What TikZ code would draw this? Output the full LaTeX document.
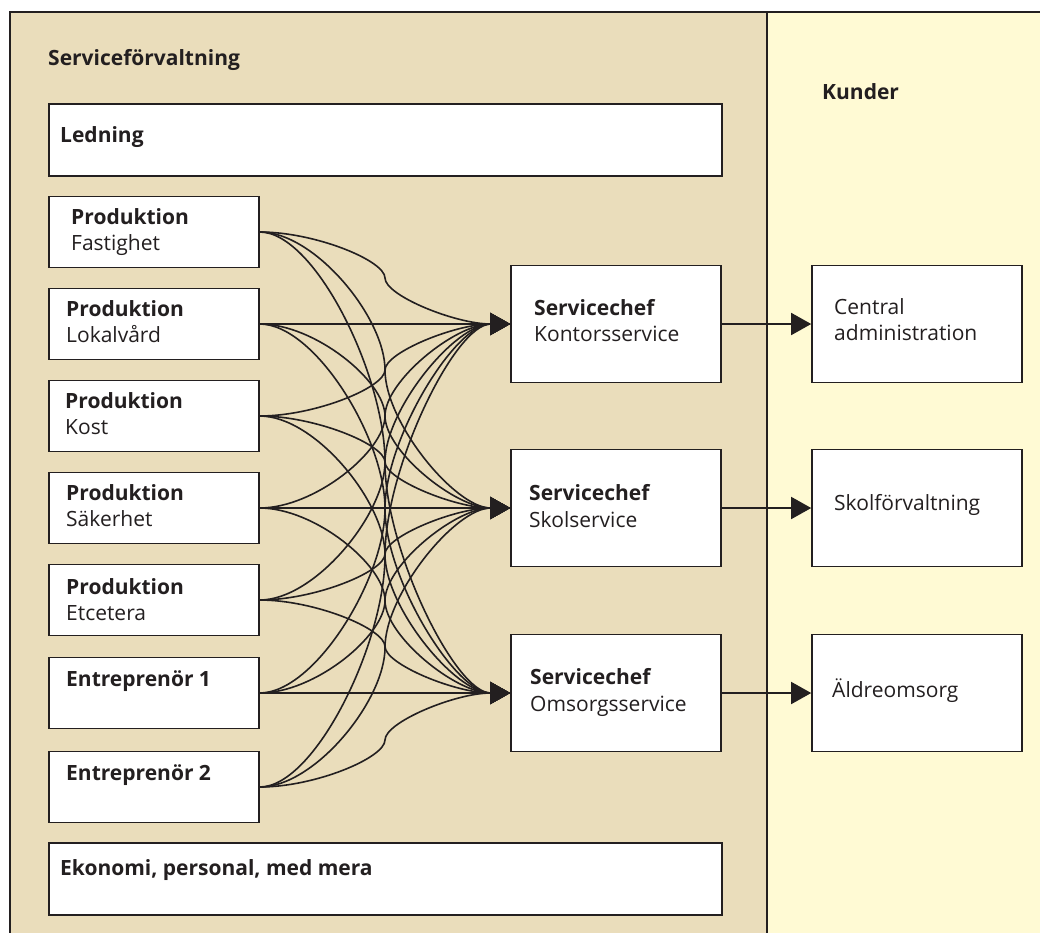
\documentclass[tikz,border=0pt]{standalone}
\usepackage{fontspec}
\setmainfont{Open Sans}
\usetikzlibrary{arrows.meta,calc}
\definecolor{ink}{RGB}{35,31,32}
\definecolor{panelbeige}{RGB}{234,221,187}
\definecolor{panelyellow}{RGB}{255,250,212}
\begin{document}
\begin{tikzpicture}[x=1pt,y=-1pt,
  panel/.style={draw=ink,line width=2pt},
  box/.style={draw=ink,fill=white,line width=1.6pt,rectangle,inner sep=0pt},
  srcbox/.style={box,minimum width=210pt,minimum height=71pt},
  bigbox/.style={box,minimum width=210pt,minimum height=117pt},
  widebox/.style={box,minimum width=673pt,minimum height=72pt},
  lbl/.style={anchor=base west,inner sep=0pt,text=ink,font=\fontsize{21}{24}\selectfont},
  blbl/.style={lbl,font=\fontsize{21}{24}\selectfont\bfseries},
  conn/.style={draw=ink,line width=1.6pt},
  arr/.style={conn,-{Triangle[length=20pt,width=22pt]}}
]
\useasboundingbox (0,0) rectangle (1040,932);
\clip (0,0) rectangle (1040,932);

% background panels
\fill[panelbeige] (10,12) rectangle (767,950);
\fill[panelyellow] (767,12) rectangle (1050,950);
\draw[panel] (10,950) -- (10,12) -- (1050,12);
\draw[panel] (767,12) -- (767,950);

% headings
\node[blbl] (hserv) at (48,65) {Serviceförvaltning};
\node[blbl] (hkund) at (822,99) {Kunder};

% management and support boxes
\node[widebox] (led) at (385.5,140) {};
\node[blbl] (tled) at (60,142) {Ledning};
\node[widebox] (eko) at (385.5,879) {};
\node[blbl] (teko) at (60,875) {Ekonomi, personal, med mera};

% production units
\node[srcbox] (p1) at (154,232) {};
\node[srcbox] (p2) at (154,324) {};
\node[srcbox] (p3) at (154,416) {};
\node[srcbox] (p4) at (154,508) {};
\node[srcbox] (p5) at (154,600) {};
\node[srcbox] (p6) at (154,693) {};
\node[srcbox] (p7) at (154,787) {};

\node[blbl] (tp1a) at (71,224.5) {Produktion};
\node[lbl]  (tp1b) at (71,250) {Fastighet};
\node[blbl] (tp2a) at (66,316.5) {Produktion};
\node[lbl]  (tp2b) at (66,342) {Lokalvård};
\node[blbl] (tp3a) at (65,408.5) {Produktion};
\node[lbl]  (tp3b) at (65,434) {Kost};
\node[blbl] (tp4a) at (66,500.5) {Produktion};
\node[lbl]  (tp4b) at (66,526) {Säkerhet};
\node[blbl] (tp5a) at (66,594.5) {Produktion};
\node[lbl]  (tp5b) at (66,620) {Etcetera};
\node[blbl] (tp6a) at (66,686) {Entreprenör 1};
\node[blbl] (tp7a) at (66,780) {Entreprenör 2};

% service managers
\node[bigbox] (k1) at (616,324) {};
\node[bigbox] (k2) at (616,508) {};
\node[bigbox] (k3) at (616,693) {};
\node[blbl] (tk1a) at (534,315.5) {Servicechef};
\node[lbl]  (tk1b) at (534,341) {Kontorsservice};
\node[blbl] (tk2a) at (529,500.5) {Servicechef};
\node[lbl]  (tk2b) at (529,527) {Skolservice};
\node[blbl] (tk3a) at (530,684.5) {Servicechef};
\node[lbl]  (tk3b) at (530,711) {Omsorgsservice};

% customers
\node[bigbox] (c1) at (917,324) {};
\node[bigbox] (c2) at (917,508) {};
\node[bigbox] (c3) at (917,693) {};
\node[lbl] (tc1a) at (834,314.5) {Central};
\node[lbl] (tc1b) at (834,340.5) {administration};
\node[lbl] (tc2a) at (834,510) {Skolförvaltning};
\node[lbl] (tc3a) at (832,697) {Äldreomsorg};

% every production unit delivers to every service manager:
% an S-bend through the vertical midline between the columns
\foreach \s/\sy in {p1/232,p2/324,p3/416,p4/508,p5/600,p6/693,p7/787}{
  \foreach \t/\ty in {k1/324,k2/508,k3/693}{
    \pgfmathtruncatemacro\d{sign(\ty-\sy)}
    \ifnum\d=0
      \draw[arr] (\s.east) -- (\t.west);
    \else
      \pgfmathsetmacro\ia{90*\d}
      \pgfmathsetmacro\oa{-90*\d}
      \pgfmathsetmacro\vd{0.19*abs(\ty-\sy)}
      \draw[arr] (\s.east)
        to[out=0,in=\ia,out distance=55pt,in distance=\vd pt]
          ($(\s.east)!.5!(\t.west)$)
        to[out=\oa,in=180,out distance=\vd pt,in distance=55pt] (\t.west);
    \fi
  }
}

% service managers to customers
\draw[arr] (k1.east) -- (c1.west);
\draw[arr] (k2.east) -- (c2.west);
\draw[arr] (k3.east) -- (c3.west);
\end{tikzpicture}
\end{document}
